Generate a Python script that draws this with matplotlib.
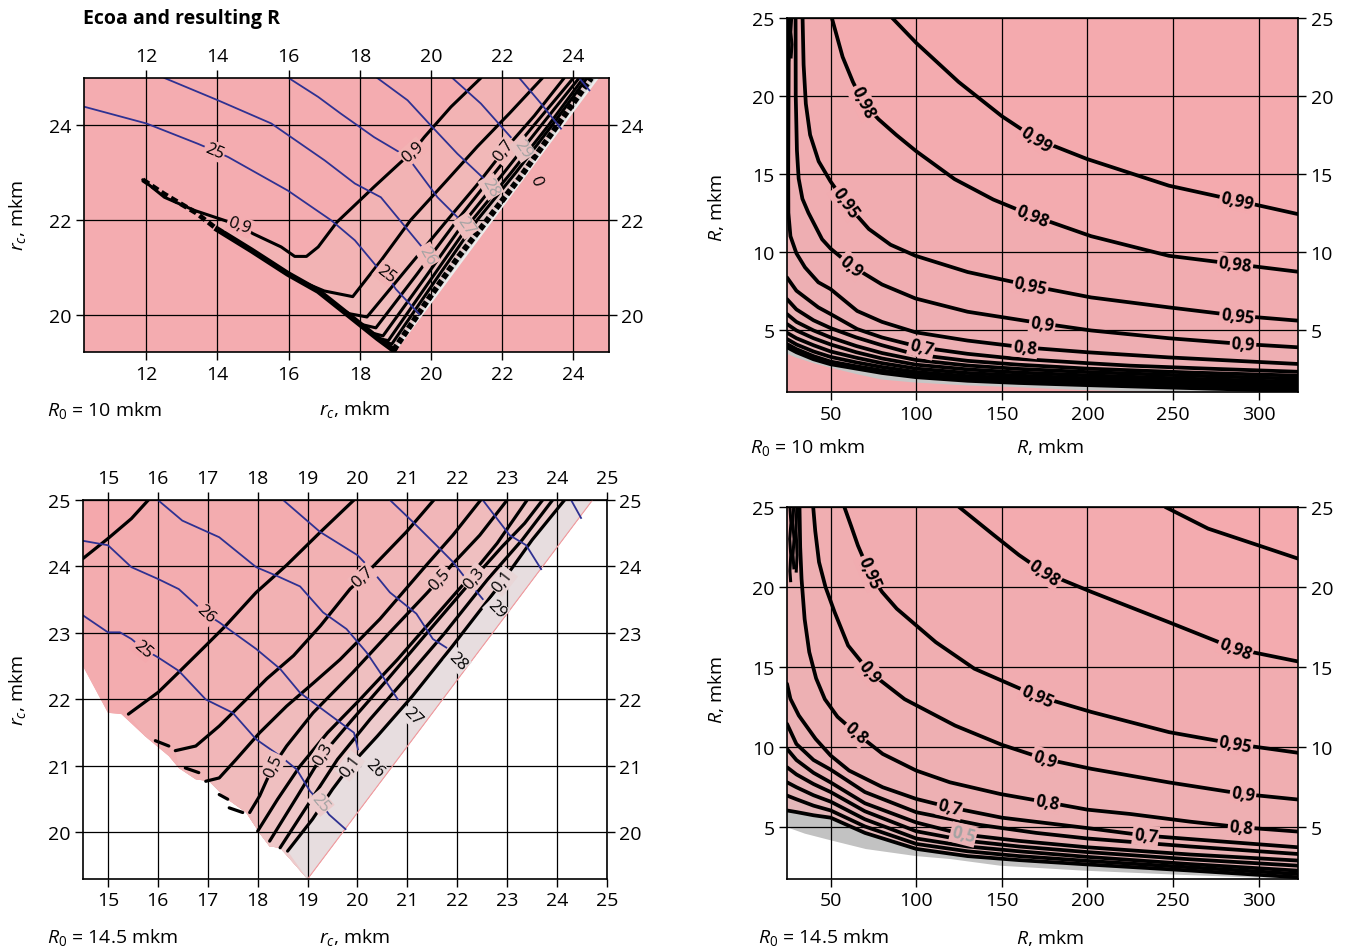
import numpy as np
import matplotlib
matplotlib.use("Agg")
import matplotlib.pyplot as plt

plt.rcParams['font.family'] = ['Open Sans', 'DejaVu Sans']
plt.rcParams['mathtext.fontset'] = 'custom'
plt.rcParams['mathtext.rm'] = 'Open Sans'
plt.rcParams['mathtext.it'] = 'Open Sans:italic'

# ---------------- top-left panel (R0 = 10 mkm), points are (rc, rc) ----------------
tl_env = [(11.9, 22.85), (12.5, 22.55), (13.4, 22.15), (14.0, 21.8), (14.95, 21.36), (15.98, 20.86),
          (16.83, 20.5), (17.5, 20.1), (18.0, 19.8), (18.5, 19.5), (18.95, 19.25)]
tl_09 = [(11.9, 22.85), (12.51, 22.48), (13.36, 22.2), (14.2, 21.99), (14.62, 21.88), (15.0, 21.71),
         (15.79, 21.43), (16.17, 21.23), (16.5, 21.23), (16.83, 21.43), (17.35, 21.95), (18.4, 22.7),
         (19.15, 23.22), (19.48, 23.44), (19.81, 23.75), (20.56, 24.39), (21.4, 25.0)]
tl_08 = [(15.79, 20.93), (16.36, 20.7), (17.0, 20.5), (17.8, 20.38), (18.6, 21.15), (19.43, 22.0),
         (20.4, 22.8), (21.3, 23.55), (22.2, 24.25), (23.13, 25.0)]
tl_07 = [(17.3, 20.2), (17.7, 20.02), (18.2, 19.95), (19.3, 20.95), (20.46, 22.0), (21.3, 22.75),
         (22.05, 23.47), (22.9, 24.2), (23.74, 25.0)]
tl_06 = [(18.0, 19.8), (18.45, 19.72), (19.6, 20.85), (20.74, 22.0), (21.9, 23.1), (23.0, 24.1), (24.0, 25.0)]
tl_05 = [(18.3, 19.62), (18.65, 19.55), (19.85, 20.8), (20.98, 22.0), (22.1, 23.05), (23.15, 24.05), (24.16, 25.0)]
tl_04 = [(18.5, 19.5), (18.8, 19.45), (20.0, 20.75), (21.16, 22.0), (22.25, 23.0), (23.3, 24.0), (24.28, 25.0)]
tl_02 = [(18.65, 19.42), (18.9, 19.38), (20.12, 20.72), (21.3, 22.0), (22.38, 23.0), (23.4, 24.0), (24.38, 25.0)]
tl_00 = [(18.95, 19.25), (19.9, 20.3), (20.75, 21.2), (21.58, 22.0), (22.55, 22.95), (23.55, 24.0), (24.5, 25.0)]
tl_edge = [(18.96, 19.21), (24.68, 25.0)]

tl_b25 = [(10.27, 24.39), (12.0, 24.04), (13.45, 23.61), (13.92, 23.46), (14.3, 23.33), (15.98, 22.62),
          (17.2, 21.99), (17.86, 21.57), (18.49, 21.0), (18.73, 20.86), (19.01, 20.54), (19.67, 20.01)]
tl_b26 = [(12.51, 25.0), (14.01, 24.53), (15.51, 24.04), (17.01, 23.26), (17.86, 22.77), (18.59, 22.48), (19.71, 21.46)]
tl_b27 = [(16.0, 25.0), (16.83, 24.6), (17.46, 24.25), (18.4, 23.75), (19.34, 23.33), (20.18, 22.48), (20.74, 22.06)]
tl_b28 = [(18.49, 25.0), (19.34, 24.53), (19.99, 24.0), (20.74, 23.4), (21.49, 22.87)]
tl_b29 = [(20.6, 25.0), (21.4, 24.46), (22.24, 23.75)]
tl_b30 = [(22.48, 25.0), (23.09, 24.46), (23.65, 23.93)]
tl_b31 = [(24.16, 25.0), (24.45, 24.74)]

# ---------------- bottom-left panel (R0 = 14.5 mkm) ----------------
bl_left = [(14.5, 22.5), (15.0, 21.8), (15.27, 21.78), (15.74, 21.45), (16.22, 21.15), (16.42, 20.97),
           (16.76, 20.8), (17.03, 20.77), (17.36, 20.52), (17.77, 20.3), (18.04, 19.99), (18.24, 19.79),
           (18.45, 19.77), (19.0, 19.3)]
bl_edge = [(19.0, 19.3), (24.71, 25.0)]
bl_09 = [(14.5, 24.12), (15.0, 24.42), (15.47, 24.72), (15.81, 25.0)]
bl_08 = [(15.41, 21.78), (16.01, 22.11), (16.42, 22.41), (16.96, 22.81), (17.36, 23.11), (17.97, 23.61),
         (18.58, 24.02), (19.26, 24.52), (19.93, 25.0)]
bl_07 = [(16.35, 21.23), (16.76, 21.3), (17.23, 21.6), (17.77, 22.0), (18.18, 22.31), (18.72, 22.66),
         (19.26, 23.11), (19.85, 23.66), (20.11, 23.84), (20.35, 24.03), (20.98, 24.52), (21.53, 25.0)]
bl_06 = [(16.96, 20.77), (17.23, 20.82), (17.57, 21.1), (18.04, 21.5), (18.58, 21.9), (19.12, 22.25),
         (19.65, 22.6), (20.45, 23.21), (21.38, 24.02), (21.91, 24.47), (22.47, 25.0)]
bl_05 = [(17.84, 20.3), (18.04, 20.55), (18.31, 21.0), (18.58, 21.3), (19.11, 21.8), (19.91, 22.41),
         (20.65, 23.01), (21.38, 23.59), (21.65, 23.81), (21.91, 24.04), (22.45, 24.47), (23.0, 25.0)]
bl_04 = [(18.0, 20.02), (18.4, 20.5), (18.85, 21.0), (19.4, 21.5), (20.05, 22.0), (20.8, 22.6),
         (21.5, 23.2), (22.2, 23.8), (22.8, 24.35), (23.4, 25.0)]
bl_03 = [(18.24, 19.87), (18.8, 20.55), (19.31, 21.18), (19.9, 21.7), (20.6, 22.3), (21.45, 23.05),
         (22.34, 23.83), (22.9, 24.3), (23.35, 24.65), (23.71, 25.0)]
bl_02 = [(18.45, 19.77), (18.95, 20.35), (19.6, 21.1), (20.25, 21.7), (20.95, 22.3), (21.75, 23.0),
         (22.6, 23.8), (23.3, 24.4), (23.91, 25.0)]
bl_01 = [(18.6, 19.72), (19.1, 20.2), (19.5, 20.65), (19.85, 21.0), (20.4, 21.45), (21.1, 22.05),
         (21.9, 22.8), (22.91, 23.78), (23.5, 24.4), (24.15, 25.0)]
bl_dashes = [[(15.95, 21.38), (16.22, 21.3)], [(16.55, 20.97), (16.82, 20.9)],
             [(17.23, 20.57), (17.4, 20.5)], [(17.43, 20.37), (17.7, 20.3)]]

bl_b25 = [(14.47, 23.28), (15.0, 23.01), (15.24, 23.01), (15.47, 22.91), (15.71, 22.76), (16.01, 22.63),
          (16.42, 22.43), (16.96, 22.0), (17.5, 21.8), (17.97, 21.4), (18.45, 21.15), (18.78, 20.95),
          (19.05, 20.62), (19.26, 20.45), (19.43, 20.27), (19.76, 20.05)]
bl_b26 = [(14.47, 24.39), (15.0, 24.32), (15.47, 23.99), (16.01, 23.81), (16.42, 23.66), (16.96, 23.29),
          (17.23, 23.16), (17.97, 22.76), (18.45, 22.46), (18.85, 22.1), (19.39, 21.8), (19.93, 21.5), (20.01, 21.25)]
bl_b27 = [(16.0, 25.0), (16.49, 24.69), (17.23, 24.44), (17.97, 23.99), (18.38, 23.86), (18.85, 23.7),
          (19.31, 23.31), (19.78, 23.06), (20.18, 22.71), (20.45, 22.41), (20.81, 22.0)]
bl_b28 = [(18.51, 25.0), (19.25, 24.52), (20.0, 24.17), (20.28, 23.95), (20.65, 23.61), (21.18, 23.29),
          (21.38, 23.06), (21.51, 22.91), (21.78, 22.78)]
bl_b29 = [(20.65, 25.0), (21.11, 24.67), (21.58, 24.32), (21.91, 24.07), (22.18, 23.81), (22.51, 23.51)]
bl_b30 = [(22.51, 25.0), (23.05, 24.47), (23.38, 24.32), (23.68, 23.96)]
bl_b31 = [(24.28, 25.0), (24.48, 24.73)]

# ---------------- top-right panel (R0 = 10 mkm), points are (R, rc) ----------------
tr_99 = [(86, 25.0), (100, 23.4), (124.7, 20.9), (150, 18.7), (170.2, 17.23), (199.8, 15.95),
         (247.6, 14.24), (287.5, 13.28), (322.8, 12.42)]
tr_98 = [(50.7, 25.0), (57, 22.5), (63, 20.9), (68.9, 19.59), (78, 18.5), (88.3, 17.5), (100, 16.45),
         (122.4, 14.66), (145, 13.35), (168, 12.31), (202.1, 11.0), (247.6, 9.74), (286.3, 9.21), (322.8, 8.72)]
tr_95 = [(33.6, 25.0), (34.2, 22.0), (35.5, 19.5), (38, 17.5), (43, 15.8), (50, 14.5), (58.6, 13.16),
         (72.3, 11.46), (85, 10.45), (99.6, 9.74), (130, 8.7), (166.8, 7.82), (202.1, 7.07),
         (247.6, 6.43), (287.5, 5.9), (322.8, 5.58)]
tr_90 = [(29.5, 25.0), (29.6, 20.0), (30.3, 16.5), (31.3, 14.7), (33.5, 13.4), (37, 12.5), (45, 10.8),
         (50, 10.2), (62.1, 9.1), (80, 7.9), (99.6, 7.0), (130, 6.15), (173.6, 5.4), (202.1, 4.95),
         (247.6, 4.45), (290.9, 4.08), (322.8, 3.87)]
tr_80 = [(25.6, 25.0), (25.4, 20.0), (25.2, 15.0), (25.3, 12.5), (26.5, 11.0), (30, 9.9), (35, 9.0),
         (42.8, 8.04), (50, 7.6), (65.5, 6.2), (80, 5.5), (99.6, 4.83), (130, 4.3), (163.4, 3.86),
         (200, 3.55), (247.6, 3.22), (322.8, 2.8)]
tr_70 = [(24.5, 8.35), (30, 7.5), (42.8, 6.43), (50, 6.0), (65.5, 5.04), (80, 4.5), (103, 3.86),
         (130, 3.45), (156.6, 3.15), (200, 2.85), (225, 2.69), (270, 2.5), (322.8, 2.3)]
tr_60 = [(24.5, 6.96), (30, 6.3), (40, 5.6), (50, 5.1), (65, 4.5), (80, 4.0), (100, 3.4), (130, 3.0),
         (160, 2.75), (200, 2.5), (260, 2.25), (322.8, 2.05)]
tr_50 = [(24.5, 6.0), (30, 5.5), (40, 4.95), (50, 4.5), (65, 3.95), (80, 3.5), (100, 3.05), (130, 2.7),
         (160, 2.48), (200, 2.28), (260, 2.05), (322.8, 1.85)]
tr_40 = [(24.5, 5.36), (30, 4.95), (40, 4.45), (50, 4.05), (65, 3.55), (80, 3.15), (100, 2.75),
         (130, 2.45), (160, 2.25), (200, 2.07), (260, 1.85), (322.8, 1.65)]
tr_30 = [(24.5, 4.8), (30, 4.45), (40, 4.0), (50, 3.6), (65, 3.2), (80, 2.85), (100, 2.5), (130, 2.22),
         (160, 2.05), (200, 1.88), (260, 1.68), (322.8, 1.48)]
tr_20 = [(24.5, 4.4), (30, 4.05), (40, 3.6), (50, 3.25), (65, 2.9), (80, 2.6), (100, 2.28), (130, 2.02),
         (160, 1.87), (200, 1.72), (260, 1.52), (322.8, 1.32)]
tr_10 = [(24.5, 4.08), (30, 3.75), (40, 3.3), (50, 2.95), (65, 2.65), (80, 2.38), (100, 2.1), (130, 1.86),
         (160, 1.72), (200, 1.57), (260, 1.38), (322.8, 1.18)]
tr_00 = [(24.5, 3.87), (30, 3.55), (40, 3.1), (50, 2.78), (65, 2.5), (80, 2.22), (100, 1.95), (130, 1.72),
         (160, 1.58), (200, 1.44), (260, 1.25), (322.8, 1.06)]
tr_gray = [(24.5, 3.45), (30, 3.2), (40, 2.85), (50.4, 2.55), (65, 2.15), (79.8, 1.8), (100, 1.6),
           (130, 1.42), (160, 1.3), (197.5, 1.12), (250, 1.0), (323.5, 1.0)]
tr_wiggle = [[(25.4, 25.0), (25.9, 24.2), (25.3, 23.4), (25.8, 22.6), (25.5, 22.3)],
             [(27.2, 25.0), (26.7, 24.1), (27.4, 23.3), (26.9, 22.5)]]

# ---------------- bottom-right panel (R0 = 14.5 mkm) ----------------
br_99 = [(245.5, 25.0), (270.5, 23.65), (300, 22.6), (323.2, 21.77)]
br_98 = [(125, 25.0), (145.5, 23.23), (160, 22.0), (175, 20.9), (202.3, 19.7), (247.7, 17.8),
         (286.4, 16.15), (323.2, 15.35)]
br_95 = [(58, 25.0), (62, 23.8), (65.9, 22.6), (72.7, 20.9), (80, 19.7), (88.6, 18.65), (111.4, 16.56),
         (134, 14.9), (170.5, 13.2), (202.3, 12.2), (247.7, 10.94), (286.4, 10.2), (323.2, 9.65)]
br_90 = [(39.8, 25.0), (41, 23.5), (43.2, 21.56), (47, 20.0), (52.3, 18.44), (60.2, 16.35), (72.7, 14.7),
         (93.2, 13.0), (122.7, 11.35), (150, 10.15), (175, 9.27), (202.3, 8.65), (247.7, 7.8),
         (290.9, 7.08), (323.2, 6.73)]
br_80 = [(31.8, 25.0), (32.2, 22.5), (33, 20.5), (34.8, 18.0), (37.5, 15.94), (41.5, 14.3), (46.6, 13.0),
         (54, 11.9), (64.7, 10.9), (80.4, 9.58), (100, 8.54), (119.6, 7.81), (149, 7.08), (176.5, 6.56),
         (200, 6.1), (225, 5.83), (260, 5.35), (289.8, 5.0), (323.2, 4.73)]
br_70 = [(24.5, 13.96), (26.5, 13.02), (31.4, 11.98), (41.2, 10.52), (50, 9.48), (60.8, 8.54), (80.4, 7.5),
         (100, 6.77), (119.6, 6.25), (150, 5.6), (200, 4.95), (234, 4.48), (280, 4.1), (323.2, 3.75)]
br_60 = [(24.5, 11.46), (30, 10.2), (40, 9.2), (50, 8.6), (70, 7.2), (100, 5.94), (137, 5.15), (170, 4.65),
         (200, 4.3), (260, 3.8), (323.2, 3.33)]
br_50 = [(24.5, 9.9), (30, 9.2), (40, 8.4), (50, 7.8), (70, 6.5), (100, 5.3), (127.5, 4.55), (160, 4.15),
         (200, 3.75), (260, 3.3), (323.2, 2.92)]
br_40 = [(24.5, 8.75), (30, 8.3), (40, 7.7), (50, 7.2), (70, 6.0), (100, 4.75), (130, 4.15), (160, 3.8),
         (200, 3.45), (260, 3.0), (323.2, 2.6)]
br_30 = [(24.5, 7.81), (30, 7.5), (40, 7.0), (50, 6.6), (70, 5.5), (100, 4.3), (130, 3.8), (160, 3.5),
         (200, 3.15), (260, 2.7), (323.2, 2.29)]
br_20 = [(24.5, 6.98), (30, 6.75), (40, 6.35), (50, 6.05), (70, 5.05), (100, 3.96), (130, 3.5), (160, 3.2),
         (200, 2.9), (260, 2.5), (323.2, 2.08)]
br_10 = [(24.5, 6.05), (30, 5.95), (40, 5.75), (50, 5.6), (70, 4.65), (100, 3.65), (130, 3.2), (160, 2.95),
         (200, 2.68), (260, 2.3), (323.2, 1.875)]
br_white = [(24.5, 5.0), (35, 4.6), (51, 4.16), (70.6, 3.64), (100, 3.2), (119.6, 3.02), (149, 2.6),
            (198, 2.29), (250, 2.05), (300, 1.85), (323.5, 1.77)]
br_wiggle = [[(26.2, 25.0), (26.8, 24.0), (26.1, 23.0), (26.7, 22.0), (26.2, 21.0), (26.6, 20.4)],
             [(28.4, 25.0), (27.9, 24.0), (28.6, 23.0), (28.0, 22.0), (28.5, 21.2)],
             [(30.2, 25.0), (29.8, 23.5), (30.4, 22.0), (29.9, 21.0)]]

rc_ticks_top = [12, 14, 16, 18, 20, 22, 24]
rc_ticks_bottom = [15, 16, 17, 18, 19, 20, 21, 22, 23, 24, 25]
R_ticks = [50, 100, 150, 200, 250, 300]
PINK = '#f4acb0'
BLUE = '#2e3192'
GRAYTXT = '#a3a3a3'

W, H = 1346, 953
fig = plt.figure(figsize=(W / 100, H / 100), dpi=100)


def box(l, t, r, b):
    return [l / W, 1 - b / H, (r - l) / W, (b - t) / H]


def xy(pts):
    a = np.array(pts, float)
    return a[:, 0], a[:, 1]


def angle_at(ax, pts, x, y):
    p = ax.transData.transform(np.array(pts, float))
    q = ax.transData.transform((x, y))
    best, ang = 1e9, 0.0
    for i in range(len(p) - 1):
        a, d = p[i], p[i + 1] - p[i]
        t = np.clip(np.dot(q - a, d) / max(np.dot(d, d), 1e-9), 0, 1)
        dist = np.hypot(*(a + t * d - q))
        if dist < best:
            best = dist
            ang = np.degrees(np.arctan2(d[1], d[0]))
    if ang > 90:
        ang -= 180
    if ang < -90:
        ang += 180
    return ang


def label(ax, pts, x, y, s, color='black', bg=None, size=12, weight='normal', rot=None):
    if rot is None:
        rot = angle_at(ax, pts, x, y)
    kw = {}
    if bg is not None:
        kw['bbox'] = dict(boxstyle='square,pad=0.08', fc=bg, ec='none')
    ax.text(x, y, s, rotation=rot, rotation_mode='anchor', ha='center', va='center',
            color=color, fontsize=size, fontweight=weight, zorder=6, **kw)


def setup(ax, xlim, ylim, xt, yt, top):
    ax.set_xlim(xlim)
    ax.set_ylim(ylim)
    ax.set_xticks(xt)
    ax.set_yticks(yt)
    ax.grid(True, color='black', lw=0.9)
    ax.set_axisbelow('line')
    ax.tick_params(direction='out', length=6, width=1, labelsize=14, colors='black',
                   left=True, right=True, labelleft=True, labelright=True,
                   top=top, labeltop=top, bottom=True, labelbottom=True, pad=3)
    for s in ax.spines.values():
        s.set_linewidth(1.2)


# ======================= top-left =======================
ax = fig.add_axes(box(84, 79, 609, 353))
ax.set_facecolor(PINK)
setup(ax, (10.25, 25.0), (19.21, 25.0), rc_ticks_top, [20, 22, 24], True)
tl_lines = [tl_09, tl_08, tl_07, tl_06, tl_05, tl_04, tl_02, tl_00]
tl_band = ['#f2b3b4', '#f1b8b8', '#f0bbbb', '#eebdbd', '#ecbfbf', '#e9c1c1', '#e4c5c5', '#d8d8d8']
for pts, col in zip(tl_lines, tl_band):
    poly = pts + [tl_edge[1], tl_edge[0]] + [p for p in tl_env[::-1] if p[0] > pts[0][0] + 1e-9]
    ax.fill(*xy(poly), color=col, lw=0)
ax.plot(*xy(tl_edge), color='#ececec', lw=1.5)
for pts in tl_lines[:-1]:
    ax.plot(*xy(pts), color='black', lw=2.2, solid_capstyle='round')
ax.plot(*xy(tl_00), color='black', lw=4.2, dashes=(1.0, 0.5))
ax.plot(*xy(tl_env[:4]), color='black', lw=3.5, dashes=(1.5, 0.8))
ax.plot(*xy(tl_env[3:]), color='black', lw=4.2)
tl_blue = [tl_b25, tl_b26, tl_b27, tl_b28, tl_b29, tl_b30, tl_b31]
for pts in tl_blue:
    ax.plot(*xy(pts), color=BLUE, lw=1.3)
label(ax, tl_09, 19.48, 23.44, '0,9', bg='#f3b2b3')
label(ax, tl_09, 14.62, 21.88, '0,9', bg=PINK)
label(ax, tl_07, 22.05, 23.47, '0,7', bg='#f0bbbb')
label(ax, tl_00, 22.94, 22.84, '0', rot=-70)
label(ax, tl_b25, 13.92, 23.46, '25', bg=PINK)
label(ax, tl_b25, 18.73, 20.86, '25', bg='#f2b4b5')
label(ax, tl_b26, 19.9, 21.25, '26', color=GRAYTXT, bg='#f1b8b8', rot=-60)
label(ax, tl_b27, 20.98, 21.88, '27', color=GRAYTXT, bg='#eebdbd', rot=-55)
label(ax, tl_b28, 21.68, 22.7, '28', color=GRAYTXT, bg='#ecbfbf', rot=-60)
label(ax, tl_b29, 22.57, 23.5, '29', color=GRAYTXT, bg='#e9c1c1', rot=-55)

# ======================= bottom-left =======================
ax = fig.add_axes(box(83, 501, 607, 880))
ax.set_facecolor('white')
setup(ax, (14.5, 25.0), (19.3, 25.0), rc_ticks_bottom, [20, 21, 22, 23, 24, 25], True)
base = [(14.5, 25.0), bl_edge[1], bl_edge[0]] + bl_left[::-1]
ax.fill(*xy(base), color='#f4a8ac', lw=0)
bl_lines = [bl_09, bl_08, bl_07, bl_06, bl_05, bl_04, bl_03, bl_02, bl_01]
bl_band = ['#f3acaf', '#f2b1b3', '#f1b6b8', '#f0bbbc', '#efbfc0', '#eec3c4', '#eec7c8', '#edcbcc', '#e7dddf']
for pts, col in zip(bl_lines, bl_band):
    poly = pts + [bl_edge[1], bl_edge[0]] + [p for p in bl_left[::-1] if p[0] > pts[0][0] - 1e-9]
    ax.fill(*xy(poly), color=col, lw=0)
ax.plot(*xy(bl_edge), color='#f09a9e', lw=0.8)
for pts in bl_lines:
    ax.plot(*xy(pts), color='black', lw=2.3, solid_capstyle='round')
for pts in bl_dashes:
    ax.plot(*xy(pts), color='black', lw=2.3, solid_capstyle='round')
bl_blue = [bl_b25, bl_b26, bl_b27, bl_b28, bl_b29, bl_b30, bl_b31]
for pts in bl_blue:
    ax.plot(*xy(pts), color=BLUE, lw=1.3)
label(ax, bl_07, 20.11, 23.84, '0,7', bg='#f1b6b8')
label(ax, bl_05, 21.65, 23.81, '0,5', bg='#efbfc0')
label(ax, bl_03, 22.34, 23.83, '0,3', bg='#eec7c8')
label(ax, bl_01, 22.91, 23.78, '0,1', bg='#e9d6d7')
label(ax, bl_05, 18.31, 21.0, '0,5', bg='#efbfc0')
label(ax, bl_03, 19.31, 21.18, '0,3', bg='#eec7c8')
label(ax, bl_01, 19.85, 21.0, '0,1', bg='#e9d6d7')
label(ax, bl_b25, 15.71, 22.76, '25', bg='#f4a9ad')
label(ax, bl_b25, 19.26, 20.45, '25', color=GRAYTXT, bg='#edcbcc', rot=-50)
label(ax, bl_b26, 16.96, 23.29, '26', bg='#f3acaf')
label(ax, bl_b26, 20.35, 20.97, '26', bg='#e7dddf', rot=-45)
label(ax, bl_b27, 21.11, 21.75, '27', bg='#e7dddf', rot=-45)
label(ax, bl_b28, 22.01, 22.58, '28', bg='#e7dddf', rot=-45)
label(ax, bl_b29, 22.78, 23.36, '29', bg='#e7dddf', rot=-45)


# ======================= right panels =======================
def right_panel(ax, lines, gray, gray_col):
    lo, hi = np.array([226, 184, 186]) / 255, np.array([244, 170, 174]) / 255
    bands = []
    n = len(lines)
    ax.fill(*xy(gray + [(323.5, 25.0), (24.5, 25.0)]), color=gray_col, lw=0)
    for k, pts in enumerate(lines):
        c = tuple(lo + (hi - lo) * (k + 1) / n)
        bands.append(c)
        poly = pts + [(323.5, 25.0), (pts[0][0], 25.0)]
        ax.fill(*xy(poly), color=c, lw=0)
    for pts in lines:
        ax.plot(*xy(pts), color='black', lw=2.7, solid_capstyle='round')
    return bands


ax = fig.add_axes(box(787, 19, 1298, 393))
ax.set_facecolor('#f4aaae')
setup(ax, (24.5, 323.0), (1.0, 25.0), R_ticks, [5, 10, 15, 20, 25], False)
tr_lines = [tr_00, tr_10, tr_20, tr_30, tr_40, tr_50, tr_60, tr_70, tr_80, tr_90, tr_95, tr_98, tr_99]
bands = right_panel(ax, tr_lines, tr_gray, '#c6c6c6')
for pts in tr_wiggle:
    ax.plot(*xy(pts), color='black', lw=2.2)
for (x, y) in [(170.2, 17.23), (287.5, 13.28)]:
    label(ax, tr_99, x, y, '0,99', bg=bands[12], weight='bold')
for (x, y) in [(68.9, 19.59), (168, 12.31), (286.3, 9.21)]:
    label(ax, tr_98, x, y, '0,98', bg=bands[11], weight='bold')
for (x, y) in [(58.6, 13.16), (166.8, 7.82), (287.5, 5.9)]:
    label(ax, tr_95, x, y, '0,95', bg=bands[10], weight='bold')
for (x, y) in [(62.1, 9.1), (173.6, 5.4), (290.9, 4.08)]:
    label(ax, tr_90, x, y, '0,9', bg=bands[9], weight='bold')
label(ax, tr_80, 163.4, 3.86, '0,8', bg=bands[8], weight='bold')
label(ax, tr_70, 103, 3.86, '0,7', bg=bands[7], weight='bold')

ax = fig.add_axes(box(787, 508, 1298, 880))
ax.set_facecolor('white')
setup(ax, (24.5, 323.0), (1.77, 25.0), R_ticks, [5, 10, 15, 20, 25], False)
br_lines = [br_10, br_20, br_30, br_40, br_50, br_60, br_70, br_80, br_90, br_95, br_98, br_99]
bands = right_panel(ax, br_lines, br_white, '#c2c2c2')
for pts in br_wiggle:
    ax.plot(*xy(pts), color='black', lw=2.2)
for (x, y) in [(175, 20.9), (286.4, 16.15)]:
    label(ax, br_98, x, y, '0,98', bg=bands[10], weight='bold')
for (x, y) in [(72.7, 20.9), (170.5, 13.2), (286.4, 10.2)]:
    label(ax, br_95, x, y, '0,95', bg=bands[9], weight='bold')
for (x, y) in [(72.7, 14.7), (175, 9.27), (290.9, 7.08)]:
    label(ax, br_90, x, y, '0,9', bg=bands[8], weight='bold')
for (x, y) in [(64.7, 10.9), (176.5, 6.56), (289.8, 5.0)]:
    label(ax, br_80, x, y, '0,8', bg=bands[7], weight='bold')
for (x, y) in [(119.6, 6.25), (234, 4.48)]:
    label(ax, br_70, x, y, '0,7', bg=bands[6], weight='bold')
label(ax, br_50, 127.5, 4.55, '0,5', color=GRAYTXT, bg=bands[4], weight='bold')

# ======================= texts =======================
def ftxt(x, y, s, **kw):
    fig.text(x / W, 1 - y / H, s, fontsize=14, va='center', **kw)


ftxt(83, 19, 'Ecoa and resulting R', fontweight='bold', ha='left')
ftxt(47, 411, r'$R_{\mathrm{0}}$ = 10 mkm', ha='left')
ftxt(355, 409, r'$r_c$, mkm', ha='center')
ftxt(18, 215, r'$r_c$, mkm', ha='center', rotation=90)
ftxt(750, 447, r'$R_{\mathrm{0}}$ = 10 mkm', ha='left')
ftxt(1050, 447, r'$R$, mkm', ha='center')
ftxt(716, 208, r'$R$, mkm', ha='center', rotation=90)
ftxt(47, 938, r'$R_{\mathrm{0}}$ = 14.5 mkm', ha='left')
ftxt(355, 938, r'$r_c$, mkm', ha='center')
ftxt(18, 690, r'$r_c$, mkm', ha='center', rotation=90)
ftxt(758, 938, r'$R_{\mathrm{0}}$ = 14.5 mkm', ha='left')
ftxt(1050, 938, r'$R$, mkm', ha='center')
ftxt(716, 690, r'$R$, mkm', ha='center', rotation=90)

fig.savefig('out.png', dpi=100)
